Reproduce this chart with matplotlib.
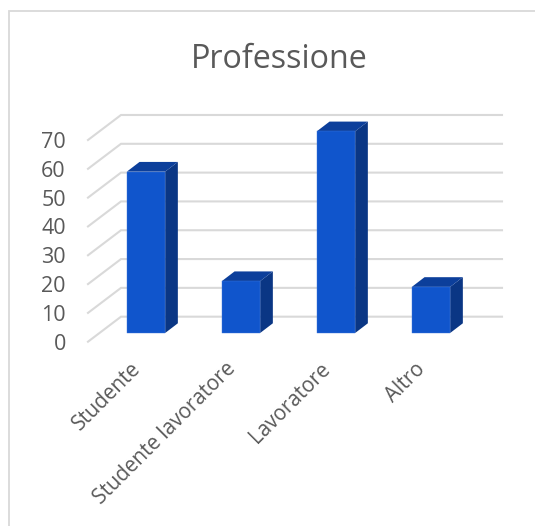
import matplotlib
matplotlib.use("Agg")
import matplotlib.pyplot as plt
from matplotlib.lines import Line2D
from matplotlib.patches import Polygon
from matplotlib.transforms import ScaledTranslation

categories = ["Studente", "Studente lavoratore", "Lavoratore", "Altro"]
values = [56, 18, 70, 16]
y_ticks = [0, 10, 20, 30, 40, 50, 60, 70]

W, H = 535, 526
px_x = 95.0            # pixels per category
px_y = 2.88            # pixels per unit
left, right = 88, 502
zero_y, top_y = 341.7, 140.0

fig = plt.figure(figsize=(W / 100, H / 100), dpi=100, facecolor="white")
fig.add_artist(Line2D([8.5 / W, 8.5 / W, 1], [0, 1 - 10.5 / H, 1 - 10.5 / H],
                      transform=fig.transFigure, color="#d9d9d9", lw=1.3,
                      solid_joinstyle="miter"))
ax = fig.add_axes([left / W, 1 - zero_y / H, (right - left) / W, (zero_y - top_y) / H])
ax.set_xlim(-58 / px_x, (right - 146) / px_x)
ax.set_ylim(0, 70)
ax.patch.set_alpha(0)
for s in ax.spines.values():
    s.set_visible(False)

# depth in data units
back_dx, back_dy = 33 / px_x, 25 / px_y
bar_dx, bar_dy = 12.7 / px_x, 9.7 / px_y
base = 8.7 / px_y
x_left = ax.get_xlim()[0]
x_right = ax.get_xlim()[1]

for v in y_ticks:
    ax.plot([x_left, x_left + back_dx, x_right], [v, v + back_dy, v + back_dy],
            color="#d9d9d9", lw=1.5, clip_on=False, zorder=1, solid_joinstyle="miter")

xs = list(range(len(categories)))
bw = 38.3 / px_x
ax.bar(xs, values, width=bw, bottom=base, color="#1055CC", ec="#3f78dc", lw=0.3, zorder=4, clip_on=False)
for x, v in zip(xs, values):
    xr = x + bw / 2
    xl = x - bw / 2
    t = base + v
    ax.add_patch(Polygon([(xr, base), (xr + bar_dx, base + bar_dy), (xr + bar_dx, t + bar_dy), (xr, t)],
                         closed=True, fc="#0A3684", ec="none", zorder=3, clip_on=False))
    ax.add_patch(Polygon([(xl, t), (xl + bar_dx, t + bar_dy), (xr + bar_dx, t + bar_dy), (xr, t)],
                         closed=True, fc="#0C3F9B", ec="none", zorder=3, clip_on=False))

ax.set_yticks(y_ticks)
ax.set_xticks(xs)
ax.set_xticklabels(categories, rotation=45, ha="right", rotation_mode="anchor",
                   fontname="Open Sans", fontsize=14.9, color="#595959")
ax.tick_params(axis="both", length=0)
ax.tick_params(axis="x", pad=12)
ax.tick_params(axis="y", pad=16, labelsize=15.5, labelcolor="#595959")
shift = ScaledTranslation(-16 / 100, 0, fig.dpi_scale_trans)
for lab in ax.get_xticklabels():
    lab.set_transform(lab.get_transform() + shift)
for lab in ax.get_yticklabels():
    lab.set_fontname("Open Sans")

fig.text(279.5 / W, 1 - 59 / H, "Professione", ha="center", va="center",
         fontname="Open Sans", fontsize=23.2, color="#595959")
fig.savefig("out.png", dpi=100)
